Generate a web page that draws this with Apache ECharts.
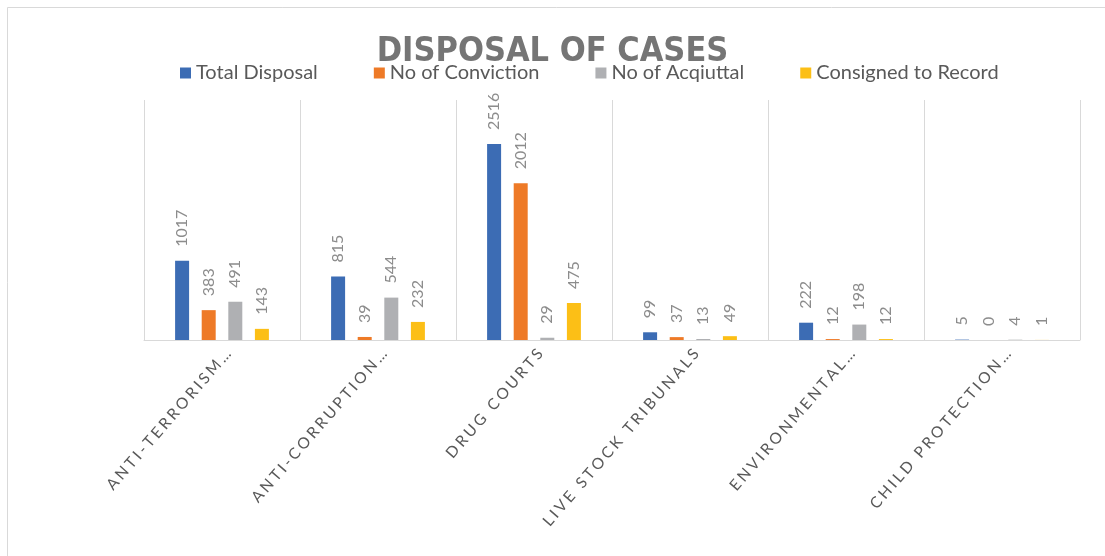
<!DOCTYPE html>
<html>
<head>
<meta charset="utf-8">
<script src="https://cdn.jsdelivr.net/npm/echarts@6/dist/echarts.min.js"></script>
<style>
  html, body { margin: 0; padding: 0; background: #fff; }
  #chart { width: 1105px; height: 556px; }
</style>
</head>
<body>
<div id="chart"></div>
<script>
// 数据
const categories = ['ANTI-TERRORISM…', 'ANTI-CORRUPTION…', 'DRUG COURTS', 'LIVE STOCK TRIBUNALS', 'ENVIRONMENTAL…', 'CHILD PROTECTION…']
const totalDisposal = [1017, 815, 2516, 99, 222, 5]
const noOfConviction = [383, 39, 2012, 37, 12, 0]
const noOfAcqiuttal = [491, 544, 29, 13, 198, 4]
const consignedToRecord = [143, 232, 475, 49, 12, 1]

const seriesNames = ['Total Disposal', 'No of Conviction', 'No of Acqiuttal', 'Consigned to Record']
const seriesData = [totalDisposal, noOfConviction, noOfAcqiuttal, consignedToRecord]
const colors = ['#3C6CB4', '#EE7A27', '#AFB0B3', '#FCBF16']

const font = 'Lato, "Noto Sans", sans-serif'

const chart = echarts.init(document.getElementById('chart'))

chart.setOption({
  animation: false,
  backgroundColor: '#fff',
  color: colors,
  title: {
    text: 'DISPOSAL OF CASES',
    left: 'center',
    top: 30,
    textStyle: {
      color: '#757575',
      fontSize: 34,
      fontWeight: 'bold',
      fontFamily: '"DejaVu Sans Condensed", "Liberation Sans Narrow", sans-serif',
    },
  },
  legend: {
    left: 175,
    top: 58,
    itemWidth: 11,
    itemHeight: 11,
    itemGap: 56,
    icon: 'rect',
    data: seriesNames,
    textStyle: { color: '#595959', fontSize: 20, fontFamily: font },
  },
  // 外框
  graphic: [{
    type: 'rect',
    shape: { x: 7.5, y: 7.5, width: 1200, height: 600 },
    style: { fill: 'none', stroke: '#d9d9d9', lineWidth: 1 },
    silent: true,
  }],
  grid: { left: 144, right: 25, top: 100, bottom: 216 },
  xAxis: {
    type: 'category',
    data: categories,
    axisLine: { lineStyle: { color: '#d9d9d9', width: 1 } },
    axisTick: { show: false },
    splitLine: { show: true, lineStyle: { color: '#d9d9d9', width: 1 } },
    axisLabel: {
      rotate: 49,
      interval: 0,
      margin: 6,
      verticalAlign: 'top',
      color: '#595959',
      fontSize: 15.5,
      fontFamily: font,
      // 字间距
      formatter: (v) => v.split('').join('\u2009\u200a'),
    },
  },
  yAxis: {
    type: 'value',
    min: 0,
    max: 3080,
    show: false,
    splitLine: { show: false },
  },
  series: seriesNames.map((name, i) => ({
    name,
    type: 'bar',
    data: seriesData[i],
    barWidth: 14,
    barGap: '90%',
    label: {
      show: true,
      position: 'top',
      rotate: 90,
      align: 'left',
      verticalAlign: 'middle',
      distance: 14,
      color: '#8c8c8c',
      fontSize: 16,
      fontFamily: font,
    },
  })),
})
</script>
</body>
</html>
